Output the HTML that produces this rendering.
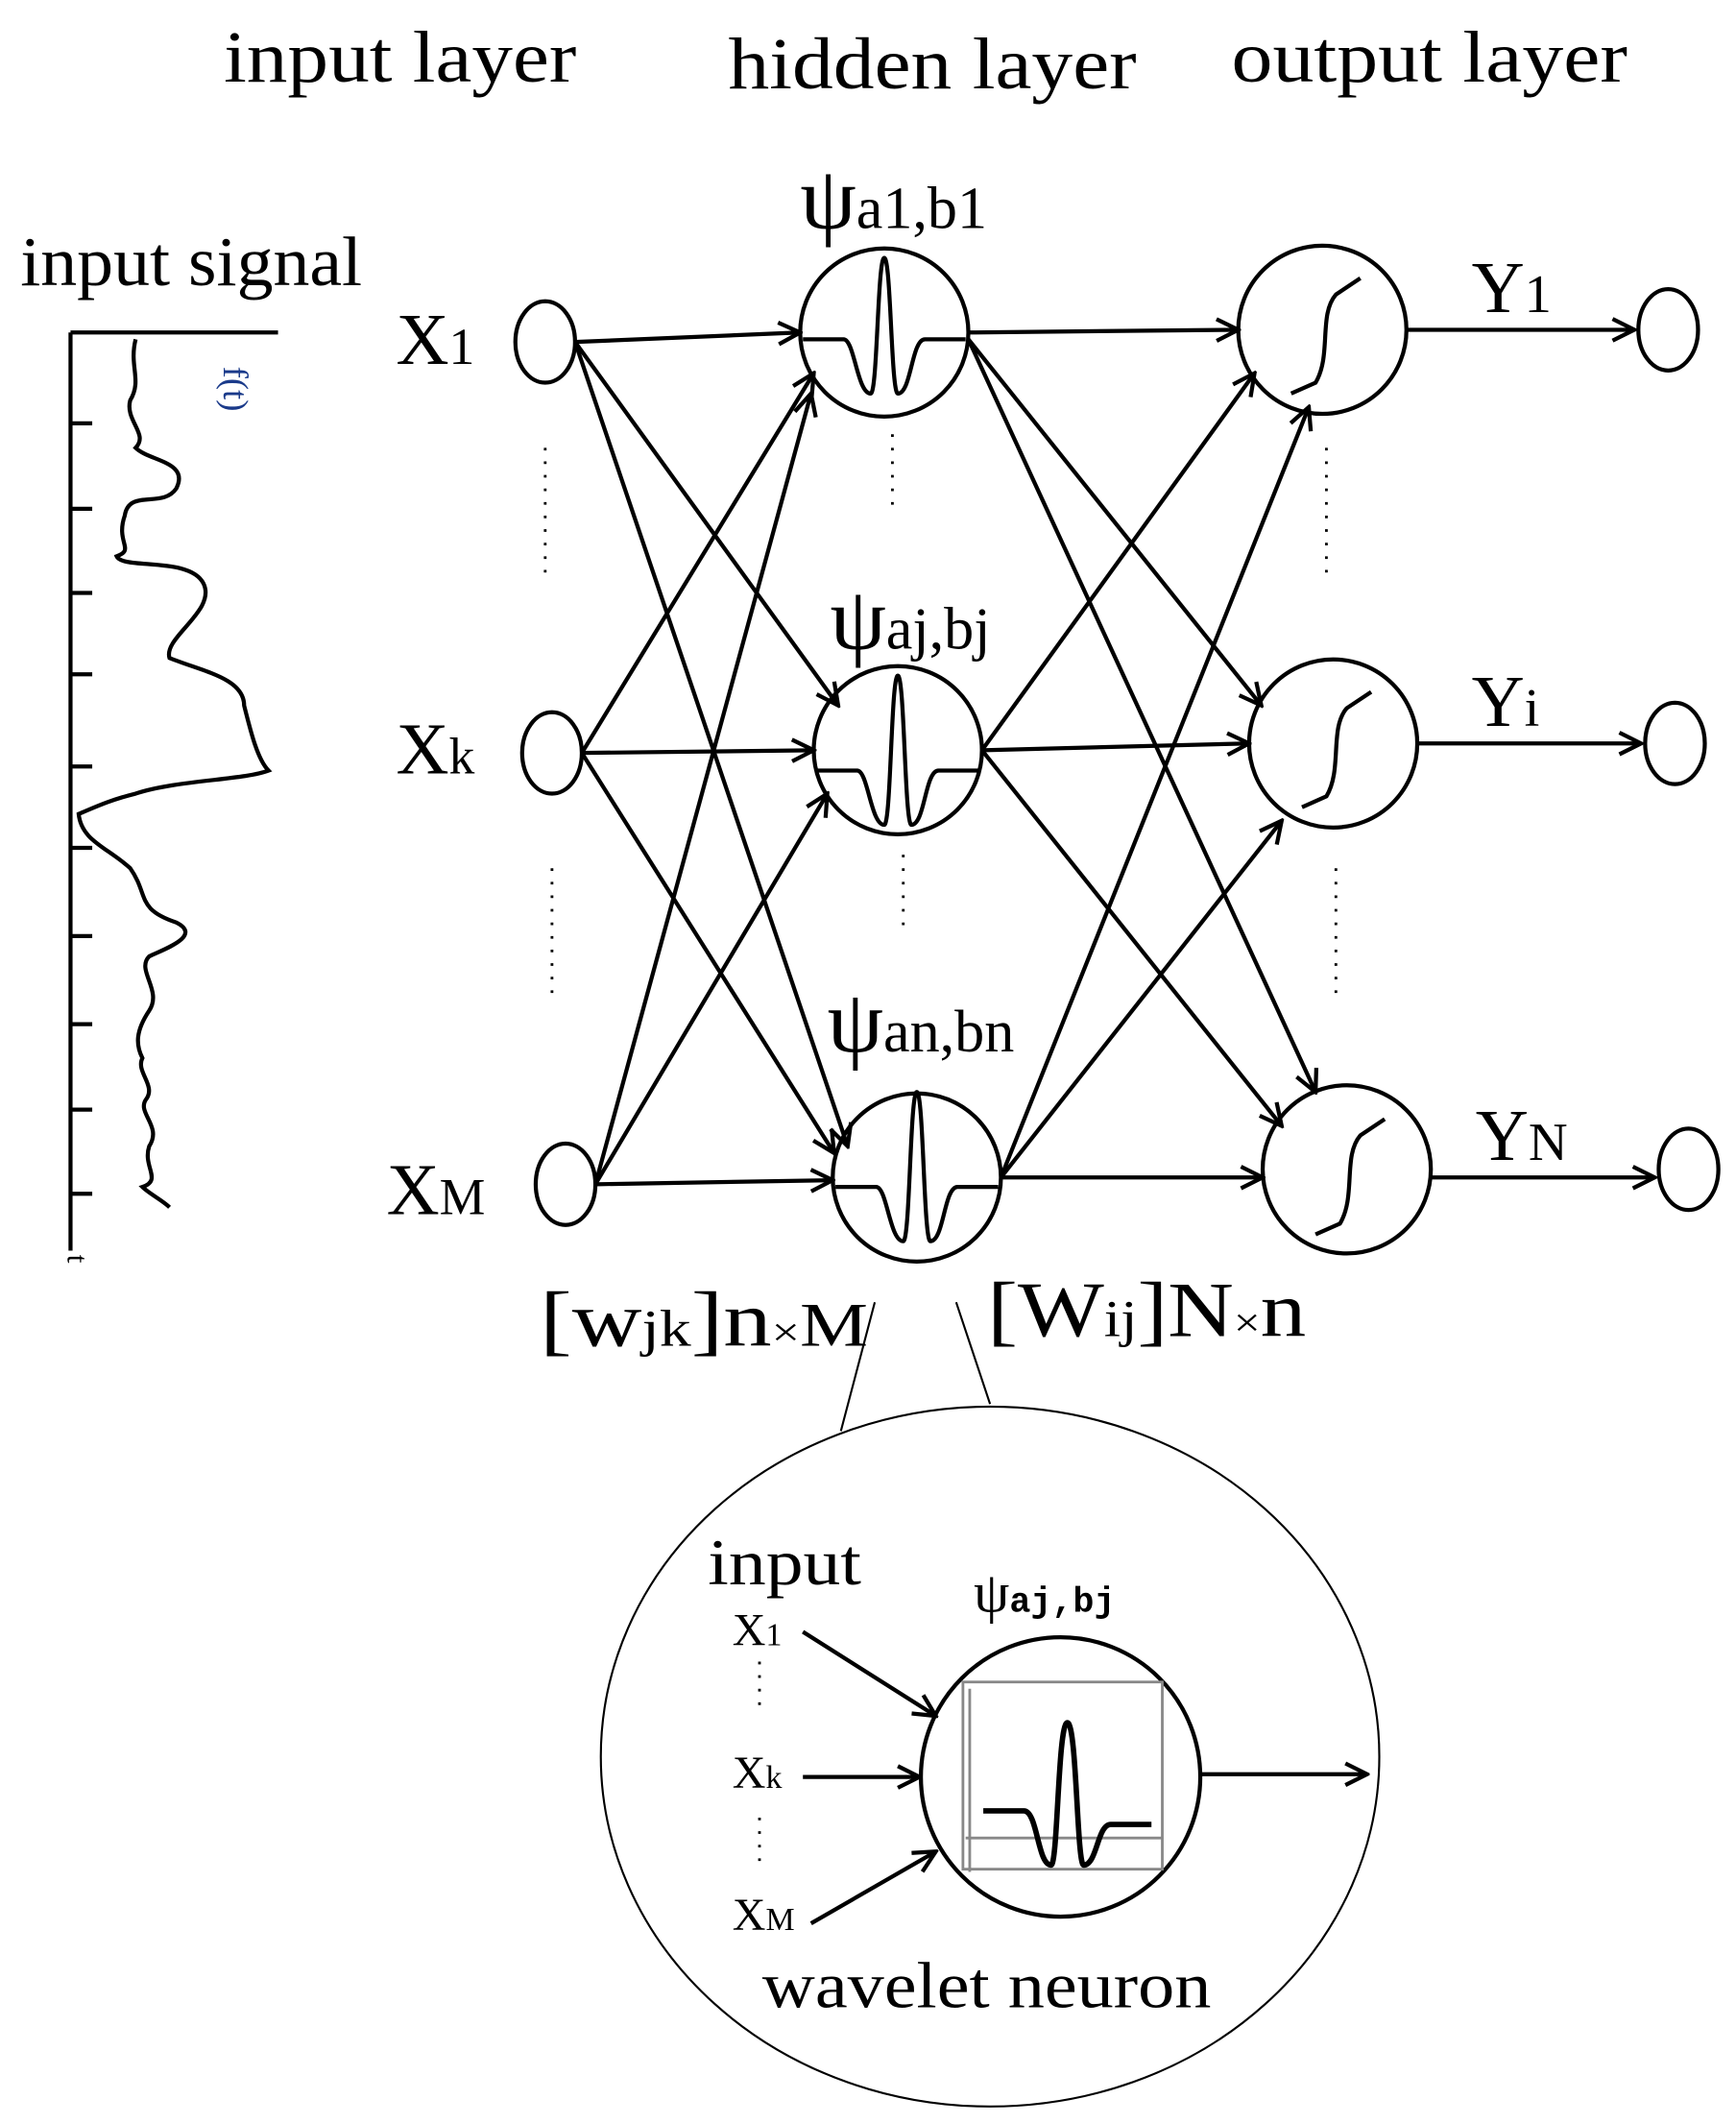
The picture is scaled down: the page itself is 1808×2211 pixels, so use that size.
<!DOCTYPE html>
<html><head><meta charset="utf-8"><style>
html,body{margin:0;padding:0;background:#fff;}
svg{display:block;}
text{font-family:"Liberation Serif",serif;fill:#000;}
</style></head><body>
<svg width="1808" height="2211" viewBox="0 0 1280 1565" xmlns="http://www.w3.org/2000/svg">
<defs>
<marker id="a" viewBox="0 0 20 20" refX="18" refY="10" markerWidth="20" markerHeight="20" markerUnits="userSpaceOnUse" orient="auto">
<path d="M2,2 L18,10 L2,18" fill="none" stroke="#000" stroke-width="3"/>
</marker>
</defs>
<g stroke="#000" fill="none" stroke-width="3">
<path d="M52,245 L52,922 M52,245 L205,245"/>
<path d="M52,312h16M52,375h16M52,437h16M52,497h16M52,565h16M52,625h16M52,690h16M52,755h16M52,818h16M52,880h16"/>
<path d="M100,250 C95,270 105,280 96,295 C92,310 110,320 100,330 C110,340 140,340 130,360 C120,375 95,360 92,380 C85,400 100,405 86,410 C90,420 140,410 150,430 C160,450 120,470 125,485 C150,495 180,500 180,520 C185,540 190,560 198,568 C180,575 130,575 100,585 C80,590 70,595 58,600 C60,620 80,625 96,640 C110,660 100,670 130,680 C150,690 120,700 110,705 C100,715 120,730 110,745 C100,760 100,770 105,780 C100,790 115,800 108,810 C100,820 120,830 110,845 C105,860 120,870 105,875 C110,880 120,885 125,890" stroke-width="3"/>
<path d="M402,330 V430 M407,640 V740 M658,320 V380 M666,630 V690 M978,330 V430 M985,640 V740 M560,1225 V1265 M560,1340 V1380" stroke-dasharray="2 8" stroke-width="2"/>
<ellipse cx="402" cy="252" rx="22" ry="30"/>
<ellipse cx="407" cy="555" rx="22" ry="30"/>
<ellipse cx="417" cy="873" rx="22" ry="30"/>
<ellipse cx="1230" cy="243" rx="22" ry="30"/>
<ellipse cx="1235" cy="548" rx="22" ry="30"/>
<ellipse cx="1245" cy="862" rx="22" ry="30"/>
<circle cx="652" cy="245" r="62"/>
<circle cx="662" cy="553" r="62"/>
<circle cx="676" cy="868" r="62"/>
<circle cx="975" cy="243" r="62"/>
<circle cx="983" cy="548" r="62"/>
<circle cx="993" cy="862" r="62"/>
<path d="M592,250 h30 c8,0 10,40 20,40 c5,0 5,-100 10,-100 c5,0 5,100 10,100 c10,0 10,-40 20,-40 h30"/>
<path d="M602,568 h30 c8,0 10,40 20,40 c5,0 5,-110 10,-110 c5,0 5,110 10,110 c10,0 10,-40 20,-40 h30"/>
<path d="M616,875 h30 c8,0 10,40 20,40 c5,0 5,-110 10,-110 c5,0 5,110 10,110 c10,0 10,-40 20,-40 h30"/>
<path d="M952,290 l18,-8 c12,-20 2,-50 15,-65 l18,-12"/>
<path d="M960,595 l18,-8 c12,-20 2,-50 15,-65 l18,-12"/>
<path d="M970,910 l18,-8 c12,-20 2,-50 15,-65 l18,-12"/>
<g marker-end="url(#a)">
<path d="M424,252 L590,245"/>
<path d="M424,252 L618,520"/>
<path d="M424,252 L625,845"/>
<path d="M429,555 L600,275"/>
<path d="M429,555 L600,553"/>
<path d="M429,555 L615,850"/>
<path d="M439,873 L598,290"/>
<path d="M439,873 L610,585"/>
<path d="M439,873 L614,870"/>
<path d="M714,245 L913,243"/>
<path d="M714,250 L930,520"/>
<path d="M714,250 L970,805"/>
<path d="M724,553 L925,275"/>
<path d="M724,553 L921,548"/>
<path d="M724,553 L945,830"/>
<path d="M738,868 L965,300"/>
<path d="M738,868 L945,605"/>
<path d="M738,868 L931,868"/>
<path d="M1037,243 L1205,243"/>
<path d="M1045,548 L1210,548"/>
<path d="M1055,868 L1220,868"/>
</g>
<path d="M645,960 L620,1055 M705,960 L730,1035" stroke-width="1.5"/>
<ellipse cx="730" cy="1295" rx="287" ry="258" stroke-width="1.5"/>
<circle cx="782" cy="1310" r="103"/>
<rect x="710" y="1240" width="147" height="138" stroke="#888" stroke-width="2"/>
<path d="M715,1380 V1245 M712,1355 H857" stroke="#888" stroke-width="2"/>
<path d="M725,1335 h30 c10,0 10,40 20,40 c5,0 5,-105 12,-105 c7,0 7,105 12,105 c10,0 10,-30 20,-30 h30" stroke-width="4"/>
<g marker-end="url(#a)">
<path d="M592,1203 L690,1265"/>
<path d="M592,1310 L678,1310"/>
<path d="M598,1418 L690,1365"/>
<path d="M885,1308 L1008,1308"/>
</g>
</g>
<text x="165" y="60" font-size="54" textLength="260" lengthAdjust="spacingAndGlyphs">input layer</text>
<text x="537" y="65" font-size="54" textLength="301" lengthAdjust="spacingAndGlyphs">hidden layer</text>
<text x="908" y="60" font-size="54" textLength="292" lengthAdjust="spacingAndGlyphs">output layer</text>
<text x="15" y="210" font-size="52" textLength="252" lengthAdjust="spacingAndGlyphs">input signal</text>
<text x="292" y="268" font-size="54">X<tspan font-size="38">1</tspan></text>
<text x="292" y="570" font-size="54">X<tspan font-size="38">k</tspan></text>
<text x="285" y="895" font-size="54">X<tspan font-size="38">M</tspan></text>
<text x="590" y="168" font-size="66">ψ<tspan font-size="44">a1,b1</tspan></text>
<text x="612" y="478" font-size="66">ψ<tspan font-size="44">aj,bj</tspan></text>
<text x="610" y="775" font-size="66">ψ<tspan font-size="44">an,bn</tspan></text>
<text x="1085" y="230" font-size="54">Y<tspan font-size="40">1</tspan></text>
<text x="1085" y="535" font-size="54">Y<tspan font-size="40">i</tspan></text>
<text x="1088" y="855" font-size="54">Y<tspan font-size="40">N</tspan></text>
<text x="398" y="992" font-size="58" textLength="242" lengthAdjust="spacingAndGlyphs">[w<tspan font-size="38">jk</tspan>]n<tspan font-size="30">×</tspan><tspan font-size="46">M</tspan></text>
<text x="728" y="985" font-size="58" textLength="235" lengthAdjust="spacingAndGlyphs">[W<tspan font-size="38">ij</tspan>]N<tspan font-size="30">×</tspan>n</text>
<text x="522" y="1168" font-size="48" textLength="113" lengthAdjust="spacingAndGlyphs">input</text>
<text x="540" y="1213" font-size="34" font-family="Liberation Sans,sans-serif">X<tspan font-size="24">1</tspan></text>
<text x="540" y="1318" font-size="34" font-family="Liberation Sans,sans-serif">X<tspan font-size="24">k</tspan></text>
<text x="540" y="1423" font-size="34" font-family="Liberation Sans,sans-serif">X<tspan font-size="24">M</tspan></text>
<text x="718" y="1188" font-size="42">ψ<tspan font-size="26" font-family="Liberation Mono,monospace" font-weight="bold">aj,bj</tspan></text>
<text x="562" y="1480" font-size="48" textLength="331" lengthAdjust="spacingAndGlyphs">wavelet neuron</text>
<text x="0" y="0" font-size="26" font-family="Liberation Sans,sans-serif" transform="translate(165,270) rotate(90)" style="fill:#1a3a8a">f(t)</text>
<text x="0" y="0" font-size="22" font-family="Liberation Sans,sans-serif" transform="translate(50,925) rotate(90)">t</text>
</svg>
</body></html>
